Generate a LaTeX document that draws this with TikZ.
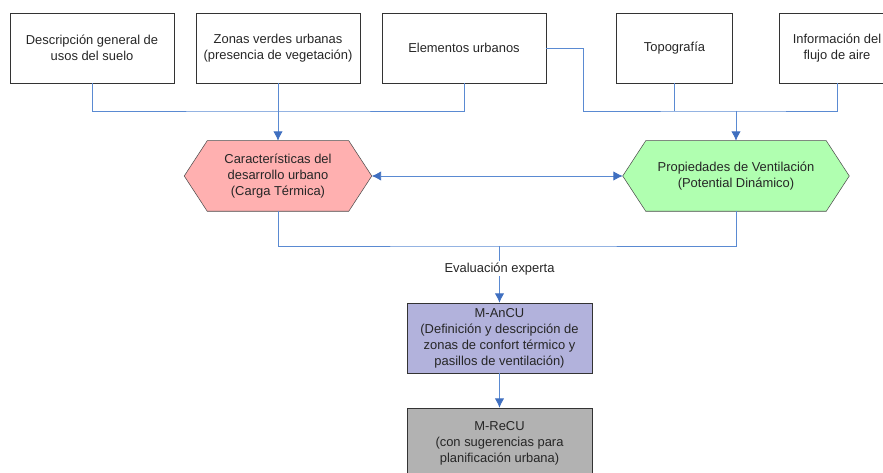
\documentclass[tikz,border=0pt]{standalone}
\usepackage{fontspec}
\setmainfont{Liberation Sans}
\usetikzlibrary{arrows.meta, backgrounds}

\definecolor{linkblue}{HTML}{5A8AD2}
\definecolor{tipblue}{HTML}{3F6FC0}
\definecolor{pinkfill}{HTML}{FFB0B0}
\definecolor{greenfill}{HTML}{B0FFB0}
\definecolor{lilacfill}{HTML}{B2B2DC}
\definecolor{greyfill}{HTML}{B2B2B2}

\begin{document}
\begin{tikzpicture}[x=0.75pt, y=-0.75pt,
    every node/.style={font=\fontsize{9.7}{12}\selectfont, align=center, text=black!85},
    inbox/.style={draw=black!80, minimum height=52.5pt, inner sep=2pt},
    hexcore/.style={minimum height=52.5pt, inner sep=0pt},
    hexline/.style={draw=black!70, line width=0.4pt},
    link/.style={draw=linkblue, line width=0.6pt},
    linkarrow/.style={link, -{Latex[length=7pt,width=7pt,color=tipblue]}}]
    \useasboundingbox (0,0) rectangle (883,473);

    % entradas
    \node[inbox, minimum width=123pt] (desc) at (92,48) {Descripción general de\\usos del suelo};
    \node[inbox, minimum width=123pt] (zonas) at (278,48) {Zonas verdes urbanas\\(presencia de vegetación)};
    \node[inbox, minimum width=123pt] (elem) at (464,48) {Elementos urbanos};
    \node[inbox, minimum width=87pt] (topo) at (674.5,48) {Topografía};
    \node[inbox, minimum width=87pt] (flujo) at (837,48) {Información del\\flujo de aire};

    % hexagonos
    \node[hexcore, minimum width=105.75pt] (carac) at (278,176) {Características del\\desarrollo urbano\\(Carga Térmica)};
    \node[hexcore, minimum width=135pt] (vent) at (736,176) {Propiedades de Ventilación\\(Potential Dinámico)};
    \coordinate (caracL) at ([xshift=-17.25pt]carac.west);
    \coordinate (caracR) at ([xshift=17.25pt]carac.east);
    \coordinate (ventL) at ([xshift=-17.25pt]vent.west);
    \coordinate (ventR) at ([xshift=17.25pt]vent.east);
    \begin{pgfonlayer}{background}
        \filldraw[hexline, fill=pinkfill] (carac.north west) -- (carac.north east) -- (caracR)
            -- (carac.south east) -- (carac.south west) -- (caracL) -- cycle;
        \filldraw[hexline, fill=greenfill] (vent.north west) -- (vent.north east) -- (ventR)
            -- (vent.south east) -- (vent.south west) -- (ventL) -- cycle;
    \end{pgfonlayer}

    % mapas
    \node[inbox, fill=lilacfill, minimum width=138.75pt] (ancu) at (499.5,338) {M-AnCU\\(Definición y descripción de\\zonas de confort térmico y\\pasillos de ventilación)};
    \node[inbox, fill=greyfill, minimum width=138.75pt] (recu) at (499.5,443) {M-ReCU\\(con sugerencias para\\planificación urbana)};

    \coordinate (busL) at (278,111);
    \coordinate (busR) at (736,111);
    \coordinate (elemTurn) at (583,111);
    \coordinate (busB) at (499.5,246);

    \draw[link] (desc.south) |- (busL) -| (elem.south);
    \draw[linkarrow] (zonas.south) -- (carac.north);

    \draw[link] (elem.east) -| (elemTurn) -- (busR) -| (flujo.south);
    \draw[link] (topo.south) -- (topo.south |- busR);
    \draw[linkarrow] (busR) -- (vent.north);

    \draw[link, {Latex[length=7pt,width=7pt,color=tipblue]}-{Latex[length=7pt,width=7pt,color=tipblue]}] (caracR) -- (ventL);

    \draw[link] (carac.south) |- (busB) -| (vent.south);
    \draw[linkarrow] (busB) -- node[fill=white, inner sep=1pt, pos=0.4] {Evaluación experta} (ancu.north);
    \draw[linkarrow] (ancu.south) -- (recu.north);

\end{tikzpicture}
\end{document}
